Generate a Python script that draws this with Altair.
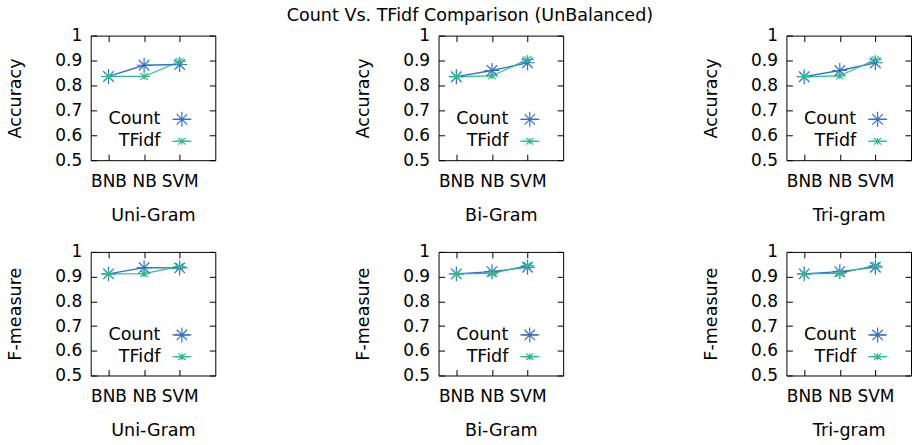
import json
import altair as alt
import pandas as pd

models = ["BNB", "NB", "SVM"]
grams = ["Uni-Gram", "Bi-Gram", "Tri-gram"]
series_names = ["Count", "TFidf"]
series_colors = ["#2f72cc", "#2dbb8a"]

acc_count_uni = [0.836, 0.881, 0.884]
acc_tfidf_uni = [0.836, 0.836, 0.896]
acc_count_bi = [0.835, 0.860, 0.891]
acc_tfidf_bi = [0.835, 0.838, 0.904]
acc_count_tri = [0.835, 0.860, 0.891]
acc_tfidf_tri = [0.835, 0.838, 0.904]

f_count_uni = [0.911, 0.936, 0.935]
f_tfidf_uni = [0.911, 0.912, 0.941]
f_count_bi = [0.911, 0.920, 0.938]
f_tfidf_bi = [0.911, 0.913, 0.945]
f_count_tri = [0.911, 0.920, 0.938]
f_tfidf_tri = [0.911, 0.913, 0.945]

y_ticks = [0.5, 0.6, 0.7, 0.8, 0.9, 1.0]

W = 125
FONT = "DejaVu Sans"
FS = 17
FST = 17.6

STAR_BIG = "M-1,0L1,0M0,-1L0,1M-0.7,-0.7L0.7,0.7M-0.7,0.7L0.7,-0.7"
STAR_SMALL = "M-1,0L1,0M0,-0.55L0,0.55M-0.6,-0.55L0.6,0.55M-0.6,0.55L0.6,-0.55"
shapes = [STAR_BIG, STAR_SMALL]
sizes = [225, 150]

label_expr = json.dumps(models) + "[datum.value - 1]"


def panel(count_vals, tfidf_vals, xtitle, ytitle, H):
    rows = []
    for s, vals in zip(series_names, [count_vals, tfidf_vals]):
        for i, (m, v) in enumerate(zip(models, vals)):
            rows.append({"idx": i + 1, "model": m, "value": v, "series": s})
    df = pd.DataFrame(rows)

    x = alt.X("idx:Q", scale=alt.Scale(domain=[0.5, 4], nice=False, zero=False),
              axis=alt.Axis(values=[1, 2, 3], labelExpr=label_expr, title=xtitle,
                            gridDash=[6, H - 12]))
    y = alt.Y("value:Q", scale=alt.Scale(domain=[0.5, 1.0], nice=False, zero=False),
              axis=alt.Axis(values=y_ticks, format="~g", title=ytitle,
                            gridDash=[6, W - 12]))
    color = alt.Color("series:N", scale=alt.Scale(domain=series_names, range=series_colors), legend=None)
    base = alt.Chart(df)
    line = base.mark_line(strokeWidth=1.3).encode(x=x, y=y, color=color, order="idx:Q")
    pts = base.mark_point(filled=False, strokeWidth=1.2, opacity=1).encode(
        x=x, y=y, color=color,
        shape=alt.Shape("series:N", scale=alt.Scale(domain=series_names, range=shapes), legend=None),
        size=alt.Size("series:N", scale=alt.Scale(domain=series_names, range=sizes), legend=None),
    )
    layers = [line, pts]
    leg_y = [84 * H / 125, 106 * H / 125]
    for s, c, shp, sz, ly in zip(series_names, series_colors, shapes, sizes, leg_y):
        d = alt.Data(values=[{"s": s}])
        layers.append(alt.Chart(d).mark_text(align="right", baseline="middle", font=FONT,
                                             fontSize=FST, color="black").encode(
            x=alt.value(70), y=alt.value(ly), text="s:N"))
        layers.append(alt.Chart(d).mark_rule(color=c, strokeWidth=1.3).encode(
            x=alt.value(82), x2=alt.value(101), y=alt.value(ly)))
        layers.append(alt.Chart(d).mark_point(shape=shp, size=sz, filled=False, color=c,
                                              strokeWidth=1.2, opacity=1).encode(
            x=alt.value(91.5), y=alt.value(ly)))
    return alt.layer(*layers).properties(width=W, height=H)


row1 = alt.hconcat(
    panel(acc_count_uni, acc_tfidf_uni, grams[0], "Accuracy", 125),
    panel(acc_count_bi, acc_tfidf_bi, grams[1], "Accuracy", 125),
    panel(acc_count_tri, acc_tfidf_tri, grams[2], "Accuracy", 125),
    spacing=138,
)
row2 = alt.hconcat(
    panel(f_count_uni, f_tfidf_uni, grams[0], "F-measure", 124),
    panel(f_count_bi, f_tfidf_bi, grams[1], "F-measure", 124),
    panel(f_count_tri, f_tfidf_tri, grams[2], "F-measure", 124),
    spacing=138,
)

chart = alt.vconcat(row1, row2, spacing=17).properties(
    title=alt.TitleParams("Count Vs. TFidf Comparison (UnBalanced)", font=FONT, fontSize=FST,
                          fontWeight="normal", color="black", anchor="middle", dx=11, offset=2),
    padding={"left": 6, "top": 5, "right": 0, "bottom": 0},
).configure_view(stroke="black", strokeWidth=1).configure_axis(
    domain=False, ticks=False, grid=True, gridColor="black", gridOpacity=1, gridWidth=1,
    labelFont=FONT, labelFontSize=FS, labelColor="black",
    titleFont=FONT, titleFontSize=FST, titleColor="black", titleFontWeight="normal",
).configure_axisY(labelPadding=9, titlePadding=30).configure_axisX(
    labelPadding=13, titlePadding=17).configure_concat(spacing=17)

chart.save("out.html", embed_options={"renderer": "svg", "actions": False})
